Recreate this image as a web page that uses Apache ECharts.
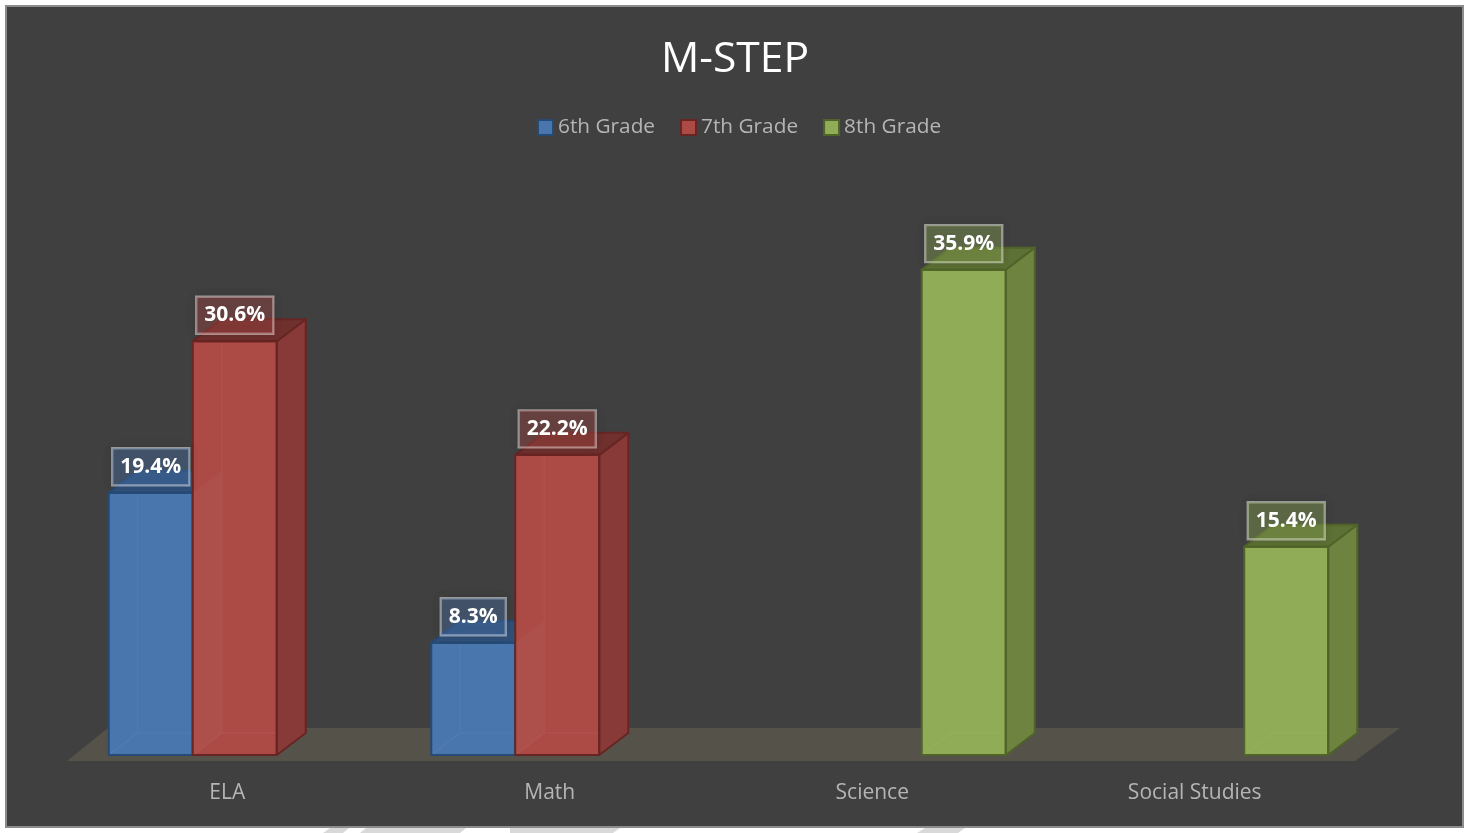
<!DOCTYPE html>
<html>
<head>
<meta charset="utf-8">
<style>html,body{margin:0;padding:0;background:#fff}#c{width:1472px;height:833px}</style>
<script src="https://cdn.jsdelivr.net/npm/echarts@6/dist/echarts.min.js"></script>
</head>
<body>
<div id="c"></div>
<script>
const categories = ['ELA', 'Math', 'Science', 'Social Studies'];
const grade6 = [19.4, 8.3, null, null];
const grade7 = [30.6, 22.2, null, null];
const grade8 = [null, null, 35.9, 15.4];

const seriesNames = ['6th Grade', '7th Grade', '8th Grade'];
const faceFront = ['#4A76AE', '#AC4B46', '#90AC56'];
const faceSide = ['#3B5F8C', '#883A38', '#6F8340'];
const faceTop = ['#30517A', '#6F302E', '#5D7035'];
const edge = ['#254A75', '#672523', '#506429'];
const boxFill = ['rgba(74,118,174,0.4)', 'rgba(171,74,69,0.4)', 'rgba(143,171,85,0.4)'];

const FONT = '"Open Sans", "Noto Sans", sans-serif';
const barRatio = 84 / 322.5, groupShift = 7.5, depthX = 29, depthY = 22;

function renderBar(idx) {
  return function (params, api) {
    const v = api.value(1);
    if (v == null || isNaN(v)) return null;
    const cat = api.value(0);
    const top = api.coord([cat, v]);
    const base = api.coord([cat, 0]);
    const w = api.size([1, 0])[0] * barRatio;
    const x0 = top[0] + groupShift - 1.5 * w + idx * w, x1 = x0 + w;
    const yT = top[1], yB = base[1];
    const dx = depthX, dy = depthY;
    const lvl = idx * 10;
    const poly = (pts, fill, stroke, lw, z2) => ({
      type: 'polygon', z2: z2, shape: { points: pts },
      style: { fill: fill, stroke: stroke, lineWidth: lw, lineJoin: 'round' }
    });
    const line = (a, b, c, op) => ({
      type: 'line', z2: lvl + 2, shape: { x1: a[0], y1: a[1], x2: b[0], y2: b[1] },
      style: { stroke: c, lineWidth: 1, opacity: op }
    });
    const sidePts = [[x1, yT], [x1 + dx, yT - dy], [x1 + dx, yB - dy], [x1, yB]];
    const frontPts = [[x0, yB], [x1, yB], [x1, yT], [x0, yT]];
    const children = [
      poly(frontPts, faceFront[idx], null, 0, lvl + 1),
      line([x0 + dx, yT], [x0 + dx, yB - dy], '#ffffff', 0.05),
      line([x0 + dx, yB - dy], [x1, yB - dy], '#ffffff', 0.06),
      line([x0, yB], [x0 + dx, yB - dy], '#ffffff', 0.06),
      poly(sidePts, faceSide[idx], edge[idx], 2, lvl + 3),
      poly([[x0, yT], [x0 + dx, yT - dy], [x1 + dx, yT - dy], [x1, yT]], faceTop[idx], edge[idx], 2, lvl + 3),
      poly(frontPts, 'none', edge[idx], 2, lvl + 4),
      {
        type: 'text', x: (x0 + x1) / 2, y: yT - 26, z2: 50,
        style: {
          text: v.toFixed(1) + '%', fill: '#ffffff',
          font: 'bold 21px ' + FONT, align: 'center', verticalAlign: 'middle',
          backgroundColor: boxFill[idx], borderColor: 'rgba(255,255,255,0.5)', borderWidth: 1.2,
          padding: [10, 8, 6, 8],
          shadowBlur: 10, shadowColor: 'rgba(0,0,0,0.22)'
        }
      }
    ];
    if (idx === 0) children.push(poly(sidePts, 'rgba(255,255,255,0.025)', null, 0, 40));
    return { type: 'group', children: children };
  };
}

function renderFloor(params, api) {
  const r = params.coordSys;
  const yF = r.y + r.height + 6, yBk = yF - 33;
  return {
    type: 'polygon',
    shape: { points: [[r.x + 1, yF], [r.x + r.width - 1, yF], [r.x + r.width + 44, yBk], [r.x + 42, yBk]] },
    style: { fill: '#55524A' }
  };
}

const toData = arr => arr.map((v, i) => [i, v]);
const barSeries = [grade6, grade7, grade8].map((arr, i) => ({
  name: seriesNames[i], type: 'custom', coordinateSystem: 'cartesian2d', clip: false,
  renderItem: renderBar(i), data: toData(arr), encode: { x: 0, y: 1 },
  itemStyle: { color: faceFront[i], borderColor: edge[i], borderWidth: 2 },
  z: 3
}));

const chart = echarts.init(document.getElementById('c'), null, { renderer: 'canvas' });
chart.setOption({
  animation: false,
  backgroundColor: '#ffffff',
  graphic: [
    { type: 'rect', z: -10, shape: { x: 6, y: 6, width: 1457, height: 821 }, style: { fill: '#404040', stroke: '#8C8C8C', lineWidth: 2 } },
    { type: 'polygon', z: -11, shape: { points: [[330, 828], [349, 828], [343, 833], [323, 833]] }, style: { fill: '#D9D9D9' } },
    { type: 'polygon', z: -11, shape: { points: [[366, 828], [466, 828], [460, 833], [360, 833]] }, style: { fill: '#D9D9D9' } },
    { type: 'polygon', z: -11, shape: { points: [[510, 828], [620, 828], [613, 833], [510, 833]] }, style: { fill: '#D9D9D9' } },
    { type: 'polygon', z: -11, shape: { points: [[925, 828], [965, 828], [958, 833], [917, 833]] }, style: { fill: '#D9D9D9' } }
  ],
  title: {
    text: 'M-STEP', left: 730, top: 55, textAlign: 'center', textVerticalAlign: 'middle',
    textStyle: { color: '#ffffff', fontFamily: FONT, fontSize: 42.6, fontWeight: 'normal' }
  },
  legend: {
    data: seriesNames, left: 532, top: 112, itemWidth: 15, itemHeight: 15, itemGap: 25, icon: 'rect',
    textStyle: { color: '#B5B5B5', fontFamily: FONT, fontSize: 20.8, padding: [0, 0, 0, 0] }
  },
  grid: { left: 66, width: 1290, top: 214.2, height: 540.8, containLabel: false },
  xAxis: {
    type: 'category', data: categories,
    axisLine: { show: false }, axisTick: { show: false }, splitLine: { show: false },
    axisLabel: { color: '#B5B5B5', fontFamily: FONT, fontSize: 21, margin: 28 }
  },
  yAxis: { type: 'value', min: 0, max: 40, show: false, splitLine: { show: false } },
  series: [
    { type: 'custom', name: 'floor', coordinateSystem: 'cartesian2d', clip: false, silent: true,
      renderItem: renderFloor, data: [[0, 0]], encode: { x: 0, y: 1 }, z: 1 }
  ].concat(barSeries)
});
</script>
</body>
</html>
